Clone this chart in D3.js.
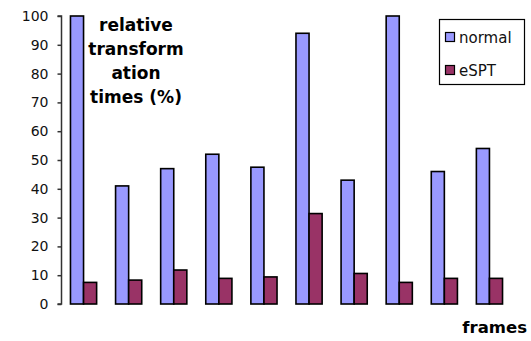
<!DOCTYPE html>
<html><head><meta charset="utf-8">
<script src="https://cdn.jsdelivr.net/npm/d3@7"></script>
<style>body{margin:0;background:#fff}svg{display:block}</style>
</head><body>
<script>
const frames = ["1","2","3","4","5","6","7","8","9","10"];
const seriesNames = ["normal","eSPT"];
const normalValues = [100, 41, 47, 52, 47.5, 94, 43, 100, 46, 54];
const esptValues = [7.5, 8.3, 11.8, 8.9, 9.4, 31.4, 10.6, 7.5, 8.9, 8.9];
const yTicks = [0,10,20,30,40,50,60,70,80,90,100];
const colors = ["#9999FF","#993366"];
const titleLines = ["relative","transform","ation","times (%)"];

const W = 531, H = 341;
const svg = d3.select("body").append("svg").attr("width", W).attr("height", H);
const font = "DejaVu Sans";

const y = d3.scaleLinear().domain([0,100]).range([304,16]);
const x0 = d3.scaleBand().domain(frames).range([61,512]).paddingInner(0.42).paddingOuter(0.21);
const x1 = d3.scaleBand().domain(seriesNames).range([0, x0.bandwidth()]);

const data = frames.map((f,i)=>({f, vals:[normalValues[i], esptValues[i]]}));

const g = svg.append("g");
data.forEach(d=>{
  d.vals.forEach((v,j)=>{
    g.append("rect")
      .attr("x", x0(d.f)+x1(seriesNames[j]))
      .attr("y", y(v))
      .attr("width", x1.bandwidth())
      .attr("height", y(0)-y(v))
      .attr("fill", colors[j])
      .attr("stroke", "#000")
      .attr("stroke-width", 1.6);
  });
});

const yAxis = d3.axisLeft(y).tickValues(yTicks).tickSize(4).tickPadding(9);
const ax = svg.append("g").attr("transform","translate(61.5,0)").call(yAxis);
ax.select(".domain").attr("stroke","#333").attr("stroke-width",1.5).attr("d","M-4,16H0V304H-4");
ax.selectAll(".tick line").attr("stroke","#333").attr("stroke-width",1.5);
ax.selectAll(".tick text").attr("font-family",font).attr("font-size",14).attr("fill","#111");

// title
const t = svg.append("text").attr("font-family",font).attr("font-weight","bold")
  .attr("font-size",17).attr("text-anchor","middle").attr("fill","#000");
titleLines.forEach((l,i)=>{
  t.append("tspan").attr("x",136).attr("y",31+i*24).text(l);
});

// x label
svg.append("text").attr("x",527).attr("y",333).attr("text-anchor","end")
  .attr("font-family",font).attr("font-weight","bold").attr("font-size",16.5).text("frames");

// legend
const lg = svg.append("g");
lg.append("rect").attr("x",439.5).attr("y",19.5).attr("width",85).attr("height",65)
  .attr("fill","#fff").attr("stroke","#000").attr("stroke-width",1.2);
seriesNames.forEach((s,i)=>{
  const yy = 32.5 + i*33;
  lg.append("rect").attr("x",445.5).attr("y",yy).attr("width",9).attr("height",9)
    .attr("fill",colors[i]).attr("stroke","#000").attr("stroke-width",1.2);
  lg.append("text").attr("x",459).attr("y",yy+10).attr("font-family",font)
    .attr("font-size",15).attr("fill","#111").text(s);
});
</script>
</body></html>
